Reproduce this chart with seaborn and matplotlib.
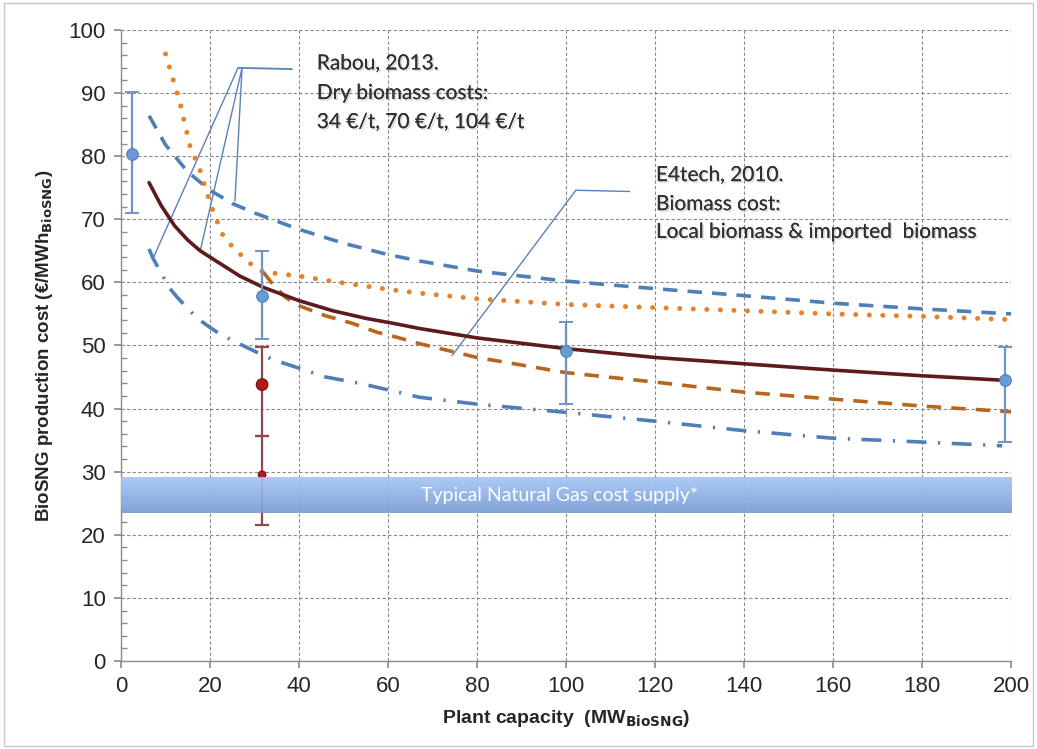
import numpy as np
import pandas as pd
import matplotlib
matplotlib.use("Agg")
import matplotlib.pyplot as plt
import matplotlib.patheffects as pe
from matplotlib.ticker import MultipleLocator
from matplotlib.colors import LinearSegmentedColormap
import seaborn as sns

# ---------------- data ----------------
rabou_high_x = [6.3, 10, 15, 20, 25, 30, 40, 50, 60, 67, 80, 100, 120, 140, 160, 180, 200]
rabou_high_y = [86.4, 81.8, 77.5, 74.6, 72.5, 71.0, 68.4, 66.2, 64.4, 63.4, 61.8, 60.2, 59.0, 57.9, 56.7, 55.8, 55.0]

e4_local_x = [10, 13.3, 15.5, 17.8, 20, 22.7, 25.2, 29, 32, 35, 40, 50, 60, 67, 80, 100, 120, 140, 160, 180, 200]
e4_local_y = [96.2, 88.3, 81.6, 77.7, 72.6, 67.7, 65.5, 63.0, 61.6, 61.4, 61.0, 59.9, 58.9, 58.3, 57.4, 56.5, 56.0, 55.5, 55.0, 54.6, 54.1]

e4_import_x = [32, 34, 37, 40, 46, 52, 57.5, 62, 67, 80, 100, 120, 140, 160, 180, 200]
e4_import_y = [61.6, 59.8, 57.6, 56.3, 54.7, 53.5, 52.1, 51.3, 50.3, 48.1, 45.7, 44.2, 42.6, 41.5, 40.4, 39.5]

rabou_mid_x = [6.3, 9, 12, 15, 17.8, 20, 26.7, 32, 40, 47.6, 55, 62, 67, 80, 100, 120, 140, 160, 180, 198]
rabou_mid_y = [75.8, 72.2, 69.0, 66.7, 65.0, 64.0, 61.0, 59.2, 57.1, 55.5, 54.3, 53.4, 52.7, 51.2, 49.5, 48.1, 47.1, 46.1, 45.2, 44.5]

rabou_low_x = [6.3, 7.2, 9, 11, 12.8, 14.8, 17, 19.3, 21.8, 25, 30.6, 34, 40, 46, 53.7, 60.4, 67, 80, 100, 120, 140, 160, 180, 198]
rabou_low_y = [65.3, 63.8, 61.5, 59.0, 57.5, 56.0, 54.4, 53.2, 52.0, 50.8, 48.9, 47.8, 46.4, 45.0, 44.0, 42.9, 41.8, 40.7, 39.4, 38.0, 36.5, 35.3, 34.7, 34.1]

pts_blue_x = [2.5, 31.7, 100, 198.7]
pts_blue_y = [80.4, 57.9, 49.2, 44.5]
pts_blue_lo = [71.0, 51.1, 40.8, 34.7]
pts_blue_hi = [90.2, 65.0, 53.7, 49.7]

pts_red_x = [31.7, 31.7]
pts_red_y = [43.8, 29.5]
pts_red_lo = [35.6, 21.5]
pts_red_hi = [49.7, 35.6]

gas_band = [23.4, 29.1]
gas_label = "Typical Natural Gas cost supply*"

rabou_text = ["Rabou, 2013.", "Dry biomass costs:", "34 €/t, 70 €/t, 104 €/t"]
e4_text = ["E4tech, 2010.", "Biomass cost:", "Local biomass & imported  biomass"]

# callout leader lines (data coordinates)
rabou_bar = ([26.3, 38.4], [94.0, 93.8])
rabou_leaders = [([26.3, 7.2], [94.0, 63.8]), ([27.2, 17.8], [94.0, 65.0]), ([27.2, 25.6], [94.0, 72.9])]
e4_bar = ([102.2, 114.3], [74.6, 74.4])
e4_leader = ([102.2, 74.4], [74.6, 48.4])

x_ticks = list(range(0, 201, 20))
y_ticks = list(range(0, 101, 10))

# ---------------- style ----------------
sns.set_theme(style="white")
plt.rcParams['font.family'] = ['Liberation Sans', 'DejaVu Sans']

fig = plt.figure(figsize=(10.37, 7.49), dpi=100)
ax = fig.add_axes([0.1167, 0.1175, 0.8583, 0.8425])

blue = "#4f7fb8"
orange_dot = "#e5822a"
orange_dash = "#b8661e"
maroon = "#5e1a1c"

def series_df(x, y):
    return pd.DataFrame({"x": x, "y": y})

sns.lineplot(data=series_df(rabou_high_x, rabou_high_y), x="x", y="y", ax=ax,
             color=blue, lw=2.6, zorder=4).lines[-1].set_dashes([4.0, 2.8])
l = sns.lineplot(data=series_df(e4_local_x, e4_local_y), x="x", y="y", ax=ax,
                 color=orange_dot, lw=3.6, zorder=4).lines[-1]
l.set_dashes([0.01, 2.7]); l.set_dash_capstyle("round")
sns.lineplot(data=series_df(e4_import_x, e4_import_y), x="x", y="y", ax=ax,
             color=orange_dash, lw=2.6, zorder=4).lines[-1].set_dashes([4.0, 2.8])
sns.lineplot(data=series_df(rabou_mid_x, rabou_mid_y), x="x", y="y", ax=ax,
             color=maroon, lw=2.6, zorder=5)
l = sns.lineplot(data=series_df(rabou_low_x, rabou_low_y), x="x", y="y", ax=ax,
                 color=blue, lw=2.6, zorder=4).lines[-1]
l.set_dashes([5.5, 3.2, 0.6, 3.2])

# error-bar points
blue_err = [np.array(pts_blue_y) - np.array(pts_blue_lo), np.array(pts_blue_hi) - np.array(pts_blue_y)]
ax.errorbar(pts_blue_x, pts_blue_y, yerr=blue_err, fmt="none", ecolor="#6f93c4",
            elinewidth=1.6, capsize=5, capthick=1.4, zorder=6)
red_err = [np.array(pts_red_y) - np.array(pts_red_lo), np.array(pts_red_hi) - np.array(pts_red_y)]
ax.errorbar(pts_red_x, pts_red_y, yerr=red_err, fmt="none", ecolor="#8e4a4a",
            elinewidth=1.6, capsize=5, capthick=1.6, zorder=2)
sns.scatterplot(x=pts_blue_x, y=pts_blue_y, ax=ax, color="#6a9ad8", s=70,
                edgecolor="#4f7fb8", linewidth=0.8, zorder=7)
sns.scatterplot(x=pts_red_x, y=pts_red_y, ax=ax, color="#b01c1c", s=[70, 30],
                edgecolor="#6a1010", linewidth=0.8, zorder=2.2, legend=False)

# natural gas band with vertical gradient (light at top)
grad = np.linspace(0, 1, 64).reshape(-1, 1)
cmap = LinearSegmentedColormap.from_list("band", ["#a6c6f2", "#8fb2e6", "#7a9dd4"])
ax.imshow(grad, extent=[0, 200, gas_band[0], gas_band[1]], aspect="auto", cmap=cmap,
          alpha=0.93, zorder=3, origin="upper")
ax.text(98.5, (gas_band[0] + gas_band[1]) / 2, gas_label, color="white", fontsize=14,
        family=["Lato", "DejaVu Sans"], ha="center", va="center", zorder=3.2)

# callouts
lead_col = "#5a82b5"
ax.plot(*rabou_bar, color=lead_col, lw=1.3, zorder=3)
for lx, ly in rabou_leaders:
    ax.plot(lx, ly, color=lead_col, lw=1.0, zorder=3)
ax.plot(*e4_bar, color=lead_col, lw=1.0, zorder=3)
ax.plot(*e4_leader, color=lead_col, lw=1.0, zorder=3)

shadow = [pe.withSimplePatchShadow(offset=(1.2, -1.2), shadow_rgbFace="#999999", alpha=0.35), pe.Normal()]
for t, yy in zip(rabou_text, [94.7, 90.0, 85.4]):
    ax.text(44.0, yy, t, fontsize=15, family=["Lato", "DejaVu Sans"], color="#303030",
            va="center", ha="left", path_effects=shadow, zorder=8)
for t, yy in zip(e4_text, [77.0, 72.4, 68.0]):
    ax.text(120.2, yy, t, fontsize=15, family=["Lato", "DejaVu Sans"], color="#303030",
            va="center", ha="left", path_effects=shadow, zorder=8)

# axes
ax.set_xlim(0, 200)
ax.set_ylim(0, 100)
ax.set_xticks(x_ticks)
ax.set_yticks(y_ticks)
ax.yaxis.set_minor_locator(MultipleLocator(2))
ax.grid(True, which="major", color="#8a8a8a", linestyle=(0, (3, 2)), linewidth=0.8, zorder=0)
ax.set_axisbelow(True)
for s in ["top", "right"]:
    ax.spines[s].set_visible(False)
for s in ["left", "bottom"]:
    ax.spines[s].set_color("#8c8c8c")
    ax.spines[s].set_linewidth(1.0)
ax.tick_params(axis="y", which="major", direction="out", length=5, color="#8c8c8c",
               labelsize=16, pad=6, left=True)
ax.tick_params(axis="y", which="minor", direction="in", length=4, color="#8c8c8c", left=True)
ax.tick_params(axis="x", which="major", direction="out", length=5, color="#8c8c8c",
               labelsize=16, pad=6, bottom=True)

ax.set_xlabel("Plant capacity  (MW$_{\\mathbf{BioSNG}}$)", fontsize=14, fontweight="bold",
              labelpad=8)
ax.set_ylabel("BioSNG production cost (€/MWh$_{\\mathbf{BioSNG}}$)", fontsize=13.5,
              fontweight="bold", labelpad=10)

# figure border
fig.patches.append(plt.Rectangle((0.004, 0.004), 0.992, 0.992, transform=fig.transFigure,
                                 fill=False, edgecolor="#c8c8c8", linewidth=1.0))

fig.savefig("out.png", dpi=100)
